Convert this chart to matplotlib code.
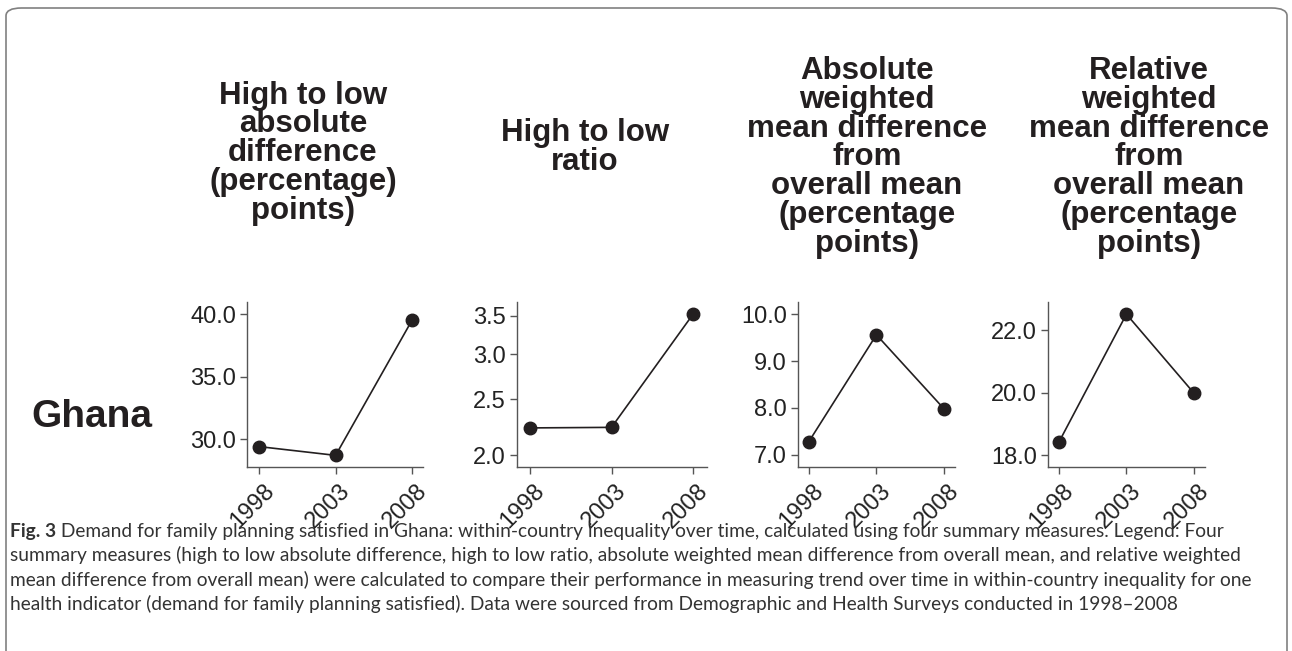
import matplotlib
matplotlib.use("Agg")
import matplotlib.pyplot as plt
import matplotlib.transforms as mtrans
from matplotlib.patches import FancyBboxPatch
from matplotlib.ticker import FixedLocator, NullLocator, FormatStrFormatter

years = [1998, 2003, 2008]

# Valores
abs_diff = [29.4, 28.7, 39.5]
ratio = [2.23, 2.235, 3.52]
abs_wmd = [7.28, 9.56, 7.98]
rel_wmd = [18.41, 22.51, 19.98]

titles = [
    "High to low\nabsolute\ndifference\n(percentage)\npoints)",
    "High to low\nratio",
    "Absolute\nweighted\nmean difference\nfrom\noverall mean\n(percentage\npoints)",
    "Relative\nweighted\nmean difference\nfrom\noverall mean\n(percentage\npoints)",
]
yticks = [[30, 35, 40], [2.0, 2.5, 3.0, 3.5], [7, 8, 9, 10], [18, 20, 22]]
ylims = [(27.77, 40.96), (1.906, 3.698), (6.74, 10.26), (17.62, 22.9)]
series = [abs_diff, ratio, abs_wmd, rel_wmd]

caption_lines = [
    " Demand for family planning satisfied in Ghana: within-country inequality over time, calculated using four summary measures. Legend: Four",
    "summary measures (high to low absolute difference, high to low ratio, absolute weighted mean difference from overall mean, and relative weighted",
    "mean difference from overall mean) were calculated to compare their performance in measuring trend over time in within-country inequality for one",
    "health indicator (demand for family planning satisfied). Data were sourced from Demographic and Health Surveys conducted in 1998\u20132008",
]

W, H = 1292, 651
fig = plt.figure(figsize=(W / 100, H / 100), dpi=100)

# posições em pixels: (esquerda, direita, xlim direito)
boxes = [(247, 423, 2008.72), (517, 707, 2008.86), (798, 955, 2008.81), (1048, 1205, 2008.81)]
# centro x, baseline da última linha
title_pos = [(303, 219), (585, 170), (867, 252), (1149, 252)]

dark = "#231f20"
axcol = "#555555"
shift = mtrans.ScaledTranslation(-7 / 100, -2 / 100, fig.dpi_scale_trans)

for i in range(4):
    x0, x1, xr = boxes[i]
    ax = fig.add_axes([x0 / W, 1 - 467 / H, (x1 - x0) / W, 165 / H])
    if i == 1:
        ax.set_yscale("log")
    ax.plot(years, series[i], color=dark, lw=1.2, marker="o", ms=9, mfc=dark, mec=dark)
    ax.set_xlim(1997.2, xr)
    ax.set_ylim(*ylims[i])
    ax.yaxis.set_major_locator(FixedLocator(yticks[i]))
    ax.yaxis.set_minor_locator(NullLocator())
    ax.yaxis.set_major_formatter(FormatStrFormatter("%.1f"))
    ax.yaxis.set_minor_formatter(FormatStrFormatter(""))
    ax.set_xticks(years)
    ax.set_xticklabels([str(y) for y in years], rotation=45, ha="center")
    for s in ["top", "right"]:
        ax.spines[s].set_visible(False)
    for s in ["left", "bottom"]:
        ax.spines[s].set_color(axcol)
        ax.spines[s].set_linewidth(1.0)
    ax.tick_params(colors=axcol, labelcolor="#222222", length=5, width=1.0, pad=3,
                   labelsize=17)
    for lab in ax.get_xticklabels() + ax.get_yticklabels():
        lab.set_family("Liberation Sans")
    for lab in ax.get_xticklabels():
        lab.set_transform(lab.get_transform() + shift)

    tx, ty = title_pos[i]
    fig.text(tx / W, 1 - ty / H, titles[i], ha="center", va="baseline", ma="center",
             fontsize=22.5, fontweight="bold", family="Liberation Sans", color=dark,
             linespacing=0.95)

fig.text(92 / W, 1 - 417 / H, "Ghana", ha="center", va="center", fontsize=28,
         fontweight="bold", family="Liberation Sans", color=dark)

# moldura arredondada
frame = FancyBboxPatch((6 / W, -0.05), 1281 / W, 1.05 - 8 / H,
                       boxstyle="round,pad=0,rounding_size=0.012",
                       transform=fig.transFigure, fill=False, ec="#808080", lw=1.2)
fig.patches.append(frame)

# legenda (caption)
cap_font = "Lato"
cap_size = 13.8
r = fig.canvas.get_renderer()
t0 = fig.text(10 / W, 1 - 531 / H, "Fig. 3", ha="left", va="center", fontsize=cap_size,
              fontweight="bold", family=cap_font, color="#333333")
bb = t0.get_window_extent(renderer=r)
fig.text(bb.x1 / W, 1 - 531 / H, caption_lines[0], ha="left", va="center", fontsize=cap_size,
         family=cap_font, color="#333333")
for k in range(1, 4):
    fig.text(10 / W, 1 - (531 + 24.3 * k) / H, caption_lines[k], ha="left", va="center",
             fontsize=cap_size, family=cap_font, color="#333333")

fig.savefig("out.png", dpi=100)
